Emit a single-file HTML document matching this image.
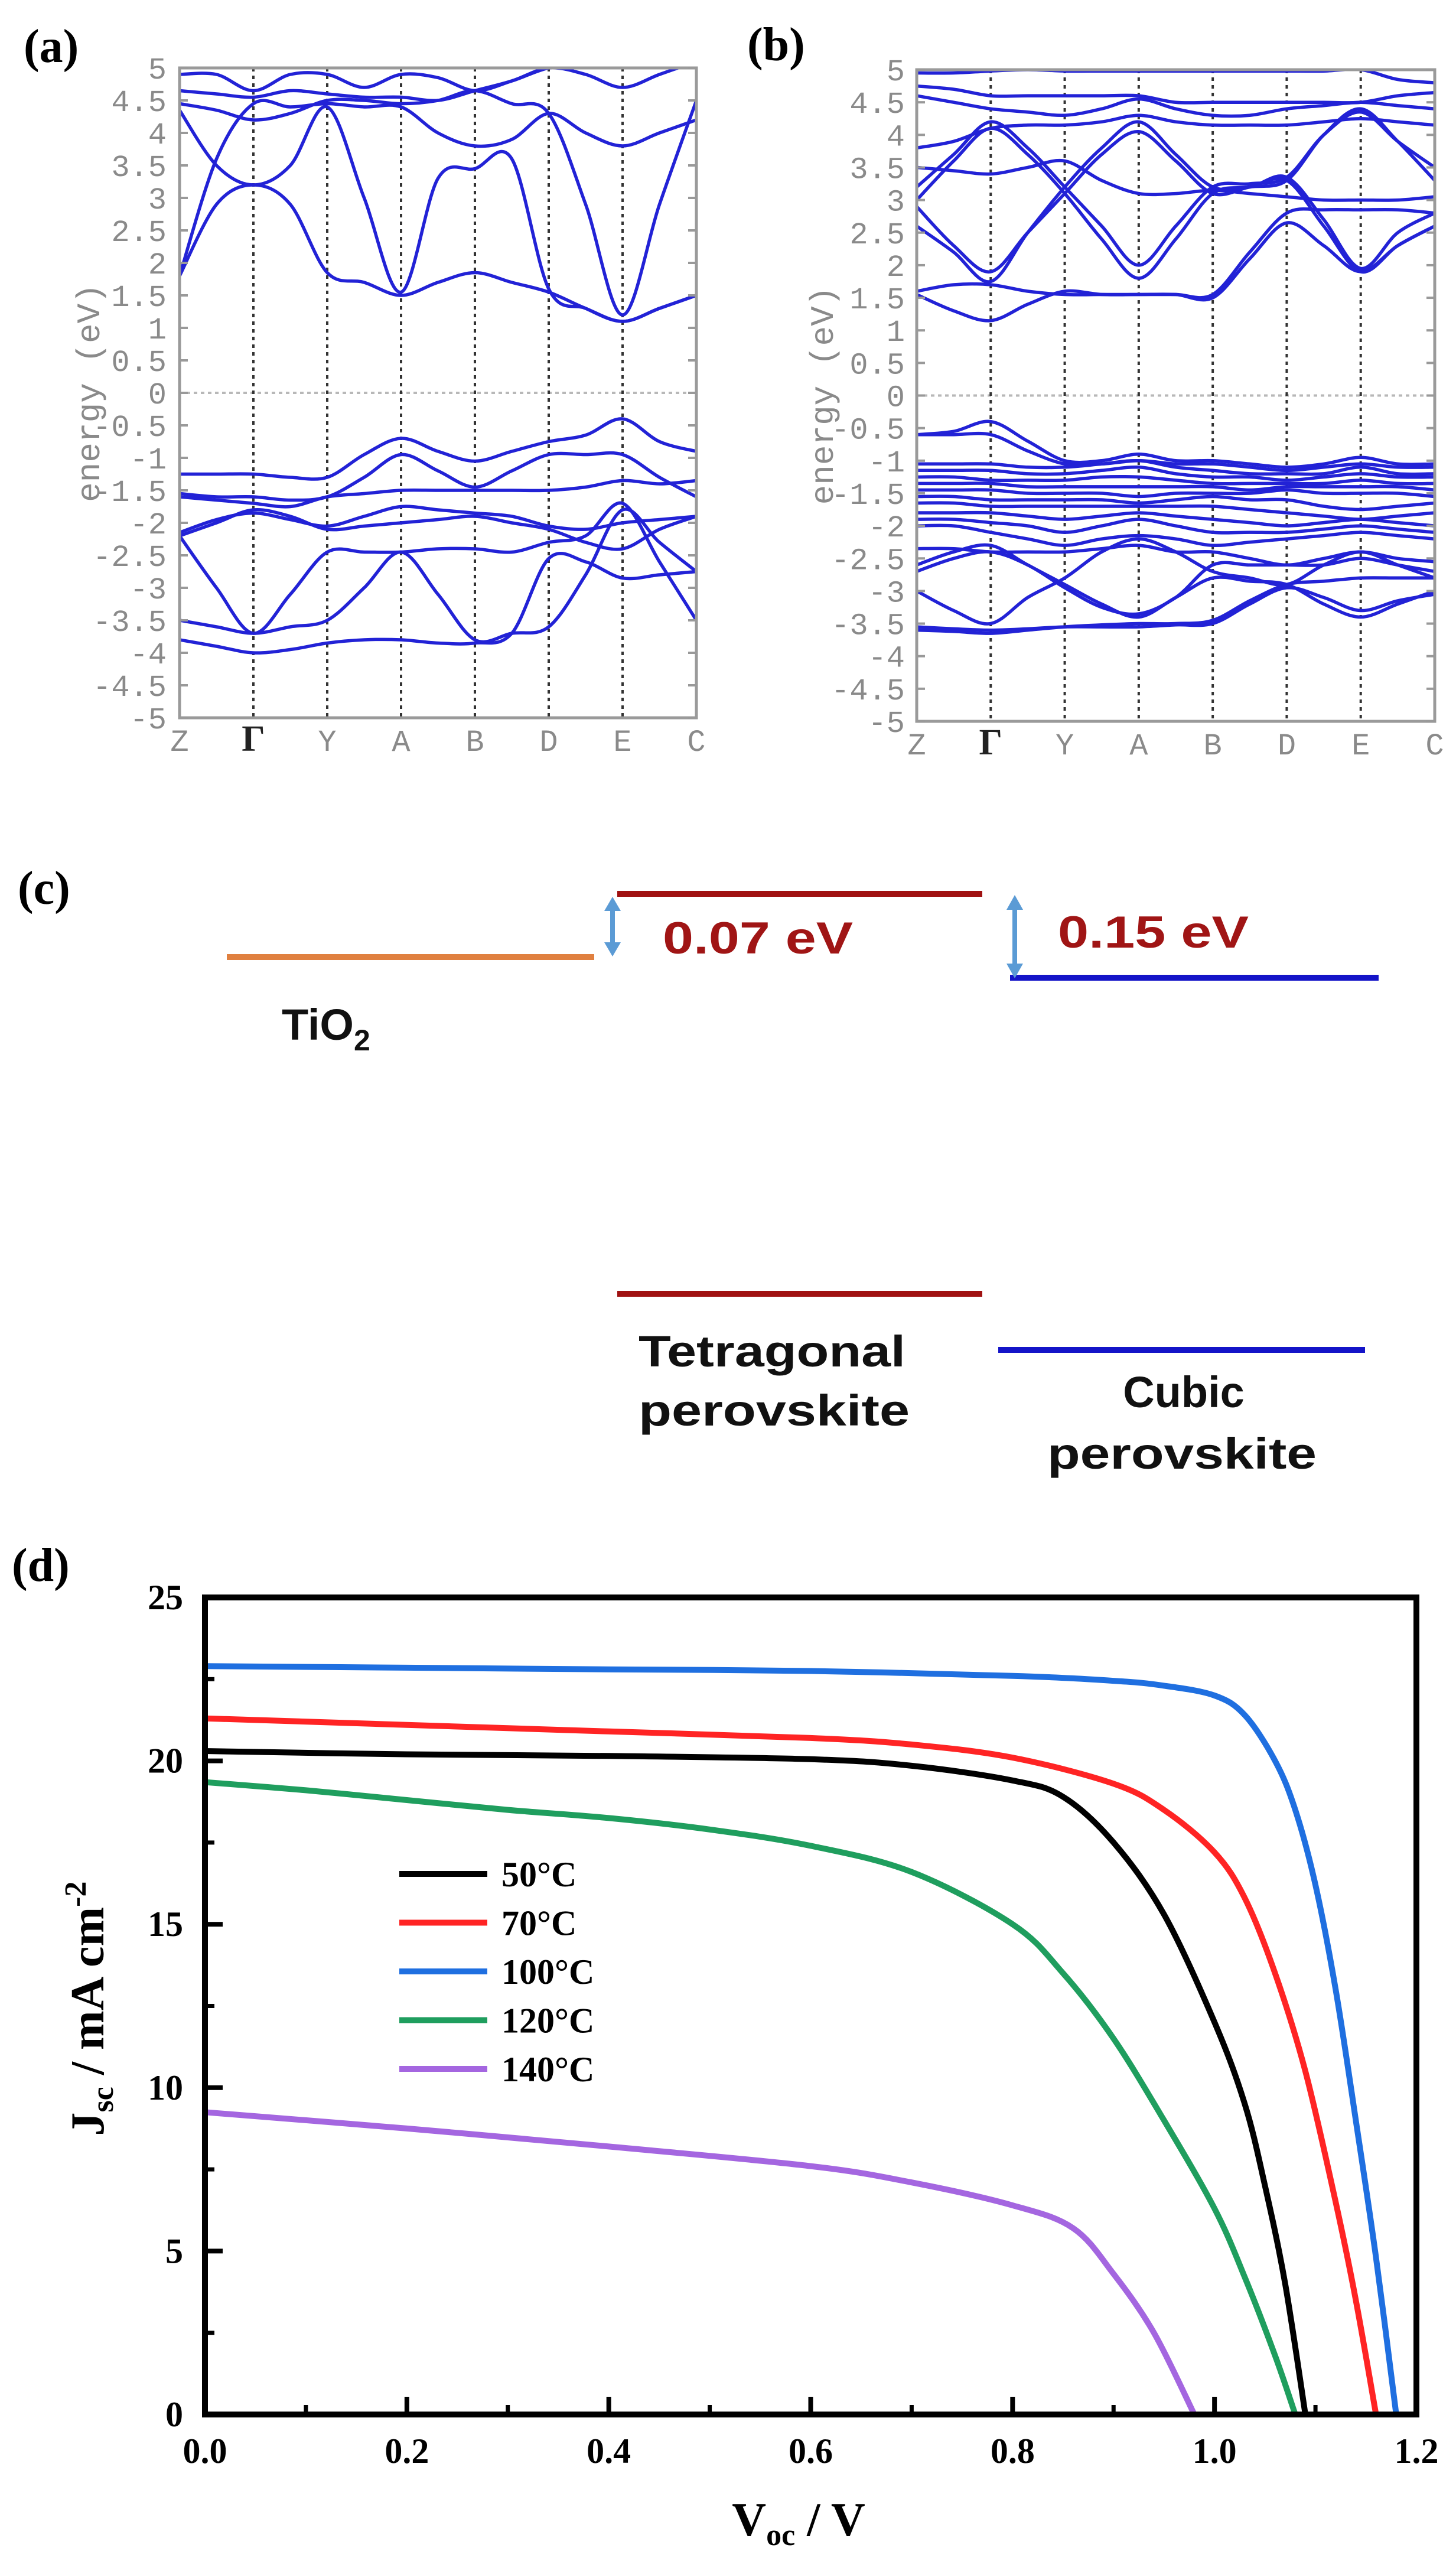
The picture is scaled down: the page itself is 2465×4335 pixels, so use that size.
<!DOCTYPE html>
<html><head><meta charset="utf-8"><style>
html,body{margin:0;padding:0;background:#fff;}
svg{display:block;}
</style></head><body>
<svg id="fig" xmlns="http://www.w3.org/2000/svg" width="2465" height="4335" viewBox="0 0 2465 4335">
<rect x="0" y="0" width="2465" height="4335" fill="#fff"/>
<g id="panelA"></g>
<g id="panelB"></g>
<text x="40" y="105" font-family="Liberation Serif" font-weight="bold" font-size="80">(a)</text>
<text x="1265" y="102" font-family="Liberation Serif" font-weight="bold" font-size="80">(b)</text>
<text x="30" y="1530" font-family="Liberation Serif" font-weight="bold" font-size="80">(c)</text>
<text x="20" y="2676" font-family="Liberation Serif" font-weight="bold" font-size="80">(d)</text>

<g>
<line x1="384" y1="1620" x2="1006" y2="1620" stroke="#e08040" stroke-width="10"/>
<text x="477" y="1760" font-family="Liberation Sans" font-weight="bold" font-size="74" fill="#111">TiO<tspan font-size="50" dy="18">2</tspan></text>
<line x1="1045" y1="1513" x2="1663" y2="1513" stroke="#a01212" stroke-width="10"/>
<line x1="1710" y1="1655" x2="2334" y2="1655" stroke="#1414c8" stroke-width="10"/>
<line x1="1045" y1="2190" x2="1663" y2="2190" stroke="#a01212" stroke-width="10"/>
<line x1="1690" y1="2285" x2="2311" y2="2285" stroke="#1414c8" stroke-width="10"/>
<g fill="#5b9bd5" stroke="#5b9bd5">
<line x1="1037" y1="1535" x2="1037" y2="1602" stroke-width="8"/>
<polygon points="1037,1518 1023,1542 1051,1542" stroke="none"/>
<polygon points="1037,1619 1023,1595 1051,1595" stroke="none"/>
</g>
<g fill="#5b9bd5" stroke="#5b9bd5">
<line x1="1718" y1="1532" x2="1718" y2="1640" stroke-width="8"/>
<polygon points="1718,1515 1704,1540 1732,1540" stroke="none"/>
<polygon points="1718,1656 1704,1631 1732,1631" stroke="none"/>
</g>
<text x="1122" y="1614" font-family="Liberation Sans" font-weight="bold" font-size="76" fill="#a01515" textLength="322" lengthAdjust="spacingAndGlyphs">0.07 eV</text>
<text x="1791" y="1604" font-family="Liberation Sans" font-weight="bold" font-size="76" fill="#a01515" textLength="323" lengthAdjust="spacingAndGlyphs">0.15 eV</text>
<text font-family="Liberation Sans" font-weight="bold" font-size="74" fill="#111"><tspan x="1081" y="2313" textLength="452" lengthAdjust="spacingAndGlyphs">Tetragonal</tspan><tspan x="1081" y="2413" textLength="459" lengthAdjust="spacingAndGlyphs">perovskite</tspan></text>
<text font-family="Liberation Sans" font-weight="bold" font-size="74" fill="#111"><tspan x="2004" y="2382" text-anchor="middle">Cubic</tspan><tspan x="1773" y="2486" textLength="456" lengthAdjust="spacingAndGlyphs">perovskite</tspan></text>
</g>

<g id="panelD"></g>
</svg>
<script>
// ---------- Band structure data (energies in eV at half-steps along Z Γ Y A B D E C) ----------
const kLabels = ["Z","Γ","Y","A","B","D","E","C"];
const energyTicks = ["5","4.5","4","3.5","3","2.5","2","1.5","1","0.5","0","-0.5","-1","-1.5","-2","-2.5","-3","-3.5","-4","-4.5","-5"];
const bandsA = [
 [1.8,2.9,3.2,2.9,1.85,1.7,1.5,1.7,1.85,1.7,1.55,1.3,1.1,1.3,1.5],
 [4.35,3.5,3.2,3.5,4.4,3.0,1.55,3.3,3.45,3.6,1.6,1.3,1.1,1.3,1.5],
 [1.8,3.6,4.45,4.4,4.45,4.4,4.4,4.0,3.8,3.9,4.3,4.0,3.8,4.0,4.2],
 [4.45,4.35,4.2,4.3,4.5,4.5,4.45,4.5,4.65,4.45,4.3,2.9,1.2,2.9,4.5],
 [4.65,4.6,4.55,4.65,4.6,4.55,4.55,4.5,4.65,4.8,5.0,4.9,4.7,4.9,5.1],
 [4.9,4.9,4.65,4.9,4.9,4.7,4.9,4.85,4.65,4.8,5.0,5.05,5.1,5.1,5.1],
 [-1.25,-1.25,-1.25,-1.3,-1.3,-0.95,-0.7,-0.9,-1.05,-0.9,-0.75,-0.65,-0.4,-0.75,-0.9],
 [-1.55,-1.6,-1.6,-1.65,-1.6,-1.3,-0.95,-1.2,-1.45,-1.2,-0.95,-0.95,-0.95,-1.3,-1.6],
 [-1.6,-1.65,-1.7,-1.75,-1.6,-1.55,-1.5,-1.5,-1.5,-1.5,-1.5,-1.45,-1.35,-1.4,-1.35],
 [-2.15,-1.95,-1.85,-1.95,-2.05,-1.9,-1.75,-1.8,-1.85,-1.9,-2.05,-2.1,-2.0,-1.95,-1.9],
 [-2.2,-2.0,-1.8,-1.9,-2.1,-2.05,-2.0,-1.95,-1.9,-2.0,-2.1,-2.3,-2.4,-2.1,-1.9],
 [-2.2,-3.0,-3.7,-3.1,-2.45,-2.45,-2.45,-2.4,-2.4,-2.45,-2.3,-2.2,-1.7,-2.6,-3.5],
 [-3.5,-3.6,-3.7,-3.6,-3.5,-3.0,-2.45,-3.1,-3.8,-3.7,-3.6,-2.8,-1.8,-2.3,-2.75],
 [-3.8,-3.9,-4.0,-3.95,-3.85,-3.8,-3.8,-3.85,-3.85,-3.7,-2.55,-2.6,-2.85,-2.8,-2.75]
];
const bandsB = [
 [2.9,2.3,1.9,2.5,3.1,3.7,4.05,3.6,3.1,3.2,3.3,2.6,1.9,2.3,2.6],
 [3.0,3.6,4.1,3.7,3.1,2.4,1.8,2.4,3.1,3.2,3.3,4.0,4.4,3.9,3.3],
 [2.6,2.2,1.75,2.5,3.2,3.8,4.2,3.7,3.2,3.2,3.35,2.7,1.95,2.5,2.8],
 [3.2,3.7,4.2,3.8,3.2,2.6,2.0,2.6,3.2,3.25,3.35,4.0,4.35,3.9,3.5],
 [1.6,1.7,1.7,1.6,1.55,1.55,1.55,1.55,1.55,2.2,2.8,2.85,2.85,2.85,2.8],
 [1.55,1.3,1.15,1.4,1.6,1.55,1.55,1.55,1.5,2.1,2.65,2.3,1.9,2.3,2.6],
 [3.5,3.45,3.4,3.5,3.6,3.3,3.1,3.1,3.15,3.1,3.05,3.0,3.0,3.0,3.05],
 [4.95,4.95,4.98,5.0,4.98,4.98,4.98,4.98,4.98,4.98,4.98,4.98,5.0,4.85,4.8],
 [4.75,4.7,4.6,4.6,4.6,4.6,4.6,4.5,4.5,4.5,4.5,4.5,4.5,4.6,4.65],
 [4.6,4.5,4.4,4.35,4.3,4.4,4.55,4.4,4.3,4.3,4.4,4.45,4.5,4.45,4.4],
 [3.8,3.9,4.1,4.15,4.15,4.2,4.3,4.2,4.15,4.15,4.15,4.2,4.25,4.2,4.15],
 [-0.6,-0.55,-0.4,-0.7,-1.0,-1.0,-0.9,-1.0,-1.0,-1.05,-1.1,-1.05,-0.95,-1.05,-1.05],
 [-0.6,-0.6,-0.6,-0.85,-1.05,-1.05,-1.0,-1.05,-1.05,-1.1,-1.15,-1.1,-1.05,-1.1,-1.1],
 [-1.05,-1.05,-1.05,-1.1,-1.1,-1.05,-1.0,-1.1,-1.15,-1.2,-1.2,-1.2,-1.1,-1.2,-1.2],
 [-1.15,-1.15,-1.15,-1.2,-1.2,-1.15,-1.1,-1.2,-1.25,-1.25,-1.3,-1.25,-1.2,-1.25,-1.25],
 [-1.25,-1.25,-1.3,-1.3,-1.3,-1.25,-1.25,-1.3,-1.35,-1.35,-1.35,-1.35,-1.3,-1.35,-1.35],
 [-1.35,-1.35,-1.35,-1.4,-1.4,-1.4,-1.4,-1.4,-1.4,-1.45,-1.4,-1.4,-1.4,-1.4,-1.45],
 [-1.45,-1.45,-1.45,-1.5,-1.5,-1.5,-1.55,-1.5,-1.5,-1.5,-1.45,-1.5,-1.5,-1.5,-1.55],
 [-1.55,-1.55,-1.6,-1.6,-1.6,-1.6,-1.65,-1.6,-1.55,-1.6,-1.6,-1.7,-1.75,-1.7,-1.65],
 [-1.65,-1.65,-1.7,-1.7,-1.7,-1.7,-1.7,-1.7,-1.7,-1.75,-1.8,-1.85,-1.9,-1.85,-1.8],
 [-1.8,-1.8,-1.8,-1.85,-1.9,-1.85,-1.8,-1.85,-1.9,-1.95,-2.0,-1.95,-1.9,-1.95,-2.0],
 [-1.9,-1.9,-1.95,-2.0,-2.1,-2.0,-1.9,-2.0,-2.1,-2.1,-2.1,-2.05,-2.0,-2.05,-2.1],
 [-2.0,-2.0,-2.1,-2.2,-2.3,-2.2,-2.15,-2.2,-2.3,-2.25,-2.2,-2.15,-2.1,-2.15,-2.2],
 [-2.35,-2.35,-2.4,-2.4,-2.4,-2.35,-2.3,-2.4,-2.4,-2.5,-2.6,-2.5,-2.4,-2.5,-2.55],
 [-2.6,-2.4,-2.3,-2.6,-2.9,-3.2,-3.4,-3.1,-2.8,-2.85,-2.9,-3.2,-3.4,-3.2,-3.0],
 [-3.0,-3.3,-3.5,-3.1,-2.8,-2.4,-2.2,-2.4,-2.7,-2.8,-2.9,-2.6,-2.4,-2.6,-2.8],
 [-2.7,-2.5,-2.4,-2.6,-2.95,-3.25,-3.35,-3.1,-2.6,-2.6,-2.6,-2.6,-2.5,-2.6,-2.7],
 [-3.55,-3.58,-3.6,-3.58,-3.55,-3.55,-3.55,-3.52,-3.5,-3.2,-2.95,-3.1,-3.3,-3.15,-3.05],
 [-3.6,-3.62,-3.65,-3.6,-3.55,-3.52,-3.5,-3.5,-3.45,-3.15,-2.9,-2.85,-2.8,-2.8,-2.8]
];

// ---------- J-V data ----------
const jvLabels = ["50°C","70°C","100°C","120°C","140°C"];
const jvColors = ["#000000","#ff2424","#1f6fe0","#1f9e5e","#a466e0"];
const v50 = [0,0.2,0.4,0.6,0.7,0.8,0.85,0.9,0.95,1.0,1.03,1.05,1.07,1.09];
const j50 = [20.3,20.2,20.15,20.05,19.85,19.4,18.9,17.5,15.3,12.0,9.5,7.0,4.0,0];
const v70 = [0,0.2,0.4,0.6,0.7,0.8,0.9,0.95,1.0,1.03,1.06,1.09,1.12,1.14,1.16];
const j70 = [21.3,21.1,20.9,20.7,20.5,20.1,19.3,18.5,17.2,15.8,13.5,10.5,6.5,3.5,0];
const v100 = [0,0.2,0.4,0.6,0.8,0.9,0.95,1.0,1.03,1.06,1.08,1.1,1.12,1.14,1.16,1.18];
const j100 = [22.9,22.85,22.8,22.75,22.6,22.45,22.3,22.0,21.4,20.0,18.5,16.2,13.0,9.0,4.8,0];
const v120 = [0,0.1,0.2,0.3,0.4,0.5,0.6,0.7,0.8,0.85,0.9,0.95,1.0,1.03,1.06,1.08];
const j120 = [19.35,19.1,18.8,18.5,18.25,17.9,17.4,16.6,15.0,13.5,11.5,9.0,6.3,4.2,1.8,0];
const v140 = [0,0.2,0.4,0.6,0.7,0.8,0.86,0.9,0.94,0.98];
const j140 = [9.25,8.75,8.2,7.6,7.1,6.4,5.7,4.3,2.5,0];
const xTickLabels = ["0.0","0.2","0.4","0.6","0.8","1.0","1.2"];
const yTickLabels = ["0","5","10","15","20","25"];

const NS = "http://www.w3.org/2000/svg";
function mk(tag, attrs, parent){ const e=document.createElementNS(NS,tag); for(const k in attrs) e.setAttribute(k,attrs[k]); parent.appendChild(e); return e; }
function smoothPath(pts){
  let d="M"+pts[0][0].toFixed(1)+","+pts[0][1].toFixed(1);
  for(let i=0;i<pts.length-1;i++){
    const p0=pts[Math.max(0,i-1)],p1=pts[i],p2=pts[i+1],p3=pts[Math.min(pts.length-1,i+2)];
    const c1=[p1[0]+(p2[0]-p0[0])/6,p1[1]+(p2[1]-p0[1])/6];
    const c2=[p2[0]-(p3[0]-p1[0])/6,p2[1]-(p3[1]-p1[1])/6];
    d+=" C"+c1[0].toFixed(1)+","+c1[1].toFixed(1)+" "+c2[0].toFixed(1)+","+c2[1].toFixed(1)+" "+p2[0].toFixed(1)+","+p2[1].toFixed(1);
  }
  return d;
}

function bandPanel(g, L, R, T, B, bands, titleX, labelRight){
  const xs = k => L + k*(R-L)/7;
  const ys = e => T + (5-e)*(B-T)/10;
  const cp = "clip"+g.id;
  const defs=mk("defs",{},g);
  const clip=mk("clipPath",{id:cp},defs);
  mk("rect",{x:L,y:T,width:R-L,height:B-T},clip);
  const z=mk("line",{x1:L,x2:R,y1:ys(0),y2:ys(0),stroke:"#b8b8b8","stroke-width":4,"stroke-dasharray":"6,6"},g);
  
  
  for(let i=1;i<7;i++){
    const l=mk("line",{x1:xs(i),x2:xs(i),y1:T,y2:B,stroke:"#333","stroke-width":4,"stroke-dasharray":"6,7"},g);
    
    
  }
  const bg=mk("g",{"clip-path":"url(#"+cp+")"},g);
  bands.forEach(b=>{
    const pts=b.map((e,i)=>[xs(i/2),ys(e)]);
    const p=mk("path",{d:smoothPath(pts),fill:"none",stroke:"#2222d6","stroke-width":5.5},bg);
    
    
  });
  const f=mk("rect",{x:L,y:T,width:R-L,height:B-T,fill:"none",stroke:"#9a9a9a","stroke-width":5},g);
  
  
  energyTicks.forEach((t,i)=>{
    const y=ys(parseFloat(t));
    mk("line",{x1:L,x2:L+14,y1:y,y2:y,stroke:"#999","stroke-width":4},g);
    mk("line",{x1:R,x2:R-14,y1:y,y2:y,stroke:"#999","stroke-width":4},g);
    const tx=mk("text",{x:labelRight,y:y+18,"text-anchor":"end","font-family":"Liberation Mono","font-size":52,fill:"#8a8a8a"},g);
    tx.textContent=t;
    
    
  });
  kLabels.forEach((k,i)=>{
    const tx=mk("text",{x:xs(i),y:B+56,"text-anchor":"middle","font-family":k==="Γ"?"Liberation Serif":"Liberation Mono","font-size":k==="Γ"?62:52,"font-weight":k==="Γ"?"bold":"normal",fill:k==="Γ"?"#222":"#8a8a8a"},g);
    tx.textContent=k;
    
    
  });
  const yt=mk("text",{x:titleX,y:(T+B)/2,"text-anchor":"middle","font-family":"Liberation Mono","font-size":56,fill:"#8a8a8a",transform:"rotate(-90 "+titleX+" "+((T+B)/2)+")"},g);
  yt.textContent="energy (eV)";
  
  
}
bandPanel(document.getElementById("panelA"),304,1179,115,1215,bandsA,168,282);
bandPanel(document.getElementById("panelB"),1552,2429,118,1221,bandsB,1410,1532);

(function(){
  const g=document.getElementById("panelD");
  const L=347,R=2398,T=2704,B=4087;
  const xs=v=>L+v/1.2*(R-L);
  const ys=j=>B-j/25*(B-T);
  const series=[[v50,j50],[v70,j70],[v100,j100],[v120,j120],[v140,j140]];
  const cg=mk("g",{},g);
  series.forEach((s,si)=>{
    const pts=s[0].map((v,i)=>[xs(v),ys(s[1][i])]);
    const p=mk("path",{d:smoothPath(pts),fill:"none",stroke:jvColors[si],"stroke-width":10,"stroke-linejoin":"round"},cg);
    
    
  });
  const fr=mk("rect",{x:L,y:T,width:R-L,height:B-T,fill:"none",stroke:"#000","stroke-width":10},g);
  
  
  xTickLabels.forEach((t,i)=>{
    const v=parseFloat(t), x=xs(v);
    mk("line",{x1:x,x2:x,y1:B,y2:B-30,stroke:"#000","stroke-width":8},g);
    if(i<xTickLabels.length-1){ const xm=xs(v+0.1); mk("line",{x1:xm,x2:xm,y1:B,y2:B-16,stroke:"#000","stroke-width":7},g); }
    const tx=mk("text",{x:x,y:B+82,"text-anchor":"middle","font-family":"Liberation Serif","font-weight":"bold","font-size":60},g);
    tx.textContent=t;
    
    
  });
  yTickLabels.forEach((t,i)=>{
    const j=parseFloat(t), y=ys(j);
    mk("line",{x1:L,x2:L+30,y1:y,y2:y,stroke:"#000","stroke-width":8},g);
    if(i<yTickLabels.length-1){ const ym=ys(j+2.5); mk("line",{x1:L,x2:L+16,y1:ym,y2:ym,stroke:"#000","stroke-width":7},g); }
    const tx=mk("text",{x:310,y:y+20,"text-anchor":"end","font-family":"Liberation Serif","font-weight":"bold","font-size":60},g);
    tx.textContent=t;
    
    
  });
  jvLabels.forEach((lab,i)=>{
    const y=3172+i*82.5;
    const ln=mk("line",{x1:676,x2:825,y1:y,y2:y,stroke:jvColors[i],"stroke-width":10},g);
    
    
    const tx=mk("text",{x:849,y:y+21,"font-family":"Liberation Serif","font-weight":"bold","font-size":60},g);
    tx.textContent=lab;
    
    
  });
  const xt=mk("text",{x:1352,y:4292,"text-anchor":"middle","font-family":"Liberation Serif","font-weight":"bold","font-size":80},g);
  xt.innerHTML='V<tspan font-size="52" dy="16">oc</tspan><tspan dy="-16"> / V</tspan>';
  
  
  const yt=mk("text",{x:175,y:3400,"text-anchor":"middle","font-family":"Liberation Serif","font-weight":"bold","font-size":80,transform:"rotate(-90 175 3400)"},g);
  yt.innerHTML='J<tspan font-size="52" dy="16">sc</tspan><tspan dy="-16"> / mA cm</tspan><tspan font-size="52" dy="-30">-2</tspan>';
  
  
})();
</script>
</body></html>
